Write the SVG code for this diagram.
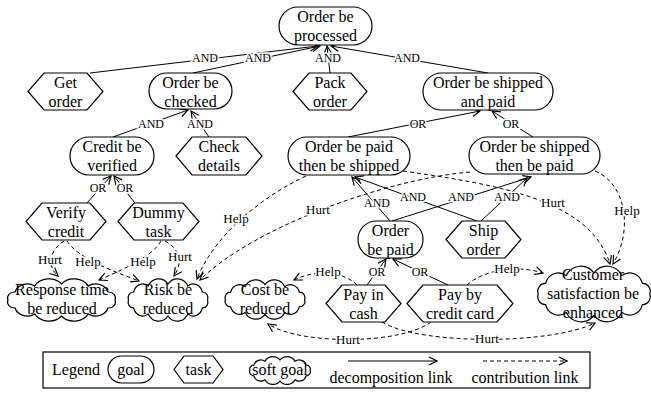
<svg xmlns="http://www.w3.org/2000/svg" width="651" height="393" viewBox="0 0 651 393">
<style>
.n{fill:#fff;stroke:#000;stroke-width:1.2}
.t{font-family:"Liberation Serif","Times New Roman",serif;font-size:16px;text-anchor:middle;fill:#000}
.l{font-family:"Liberation Serif","Times New Roman",serif;font-size:12px;text-anchor:middle;fill:#000;stroke:#fff;stroke-width:3px;paint-order:stroke;stroke-linejoin:round}
.h{font-size:13px}
.d{fill:none;stroke:#000;stroke-width:1;marker-end:url(#a)}
.c{fill:none;stroke:#000;stroke-width:1;stroke-dasharray:4 3;marker-end:url(#a)}
</style>
<defs>
<marker id="a" viewBox="0 0 10 10" refX="9" refY="5" markerWidth="10" markerHeight="10" markerUnits="userSpaceOnUse" orient="auto"><path d="M1,1L9,5L1,9" fill="none" stroke="#000" stroke-width="1.2" stroke-dasharray="none"/></marker>
<path id="cloud" vector-effect="non-scaling-stroke" d="M45,0 A6,6 0 0 1 39,8 A10.5,10.5 0 0 1 22.5,13.9 A13.5,13.5 0 0 1 0,16 A13.5,13.5 0 0 1 -22.5,13.9 A10.5,10.5 0 0 1 -39,8 A6,6 0 0 1 -45,0 A6,6 0 0 1 -39,-8 A10.5,10.5 0 0 1 -22.5,-13.9 A13.5,13.5 0 0 1 0,-16 A13.5,13.5 0 0 1 22.5,-13.9 A10.5,10.5 0 0 1 39,-8 A6,6 0 0 1 45,0 Z"/>
</defs>

<g id="connectors">
<path class="d" d="M90,73L318,46"/>
<path class="d" d="M193,73L320,46"/>
<path class="d" d="M330,73L327,46"/>
<path class="d" d="M488,73L331,46"/>
<path class="d" d="M113,137L188,110"/>
<path class="d" d="M209,137L191,111"/>
<path class="d" d="M87,203L111,176"/>
<path class="d" d="M135,203L114,176"/>
<path class="d" d="M348,137L480,111"/>
<path class="d" d="M533,137L492,111"/>
<path class="d" d="M390,221L352,177"/>
<path class="d" d="M477,221L355,177"/>
<path class="d" d="M392,221L531,177"/>
<path class="d" d="M481,221L527,178"/>
<path class="d" d="M367,285L386,259"/>
<path class="d" d="M448,285L393,259"/>

<path class="c" d="M64,241C50,250 46,265 58,276"/>
<path class="c" d="M67,241C78,258 110,270 139,281"/>
<path class="c" d="M161,241C152,257 122,270 99,280"/>
<path class="c" d="M165,241C180,249 183,263 174,276"/>
<path class="c" d="M306,176C255,200 212,240 197,279"/>
<path class="c" d="M470,172C380,180 250,230 200,280"/>
<path class="c" d="M403,171C500,185 590,200 610,264"/>
<path class="c" d="M595,171C625,183 634,228 613,264"/>
<path class="c" d="M357,285C346,273 318,268 294,280"/>
<path class="c" d="M467,285C482,271 515,264 543,273"/>
<path class="c" d="M431,322C400,345 300,345 268,324"/>
<path class="c" d="M382,322C420,345 550,345 595,323"/>

<text class="l" x="205" y="62">AND</text>
<text class="l" x="258" y="62">AND</text>
<text class="l" x="328" y="62">AND</text>
<text class="l" x="407" y="62">AND</text>
<text class="l" x="151" y="128">AND</text>
<text class="l" x="200" y="128">AND</text>
<text class="l" x="98" y="192">OR</text>
<text class="l" x="125" y="192">OR</text>
<text class="l" x="418" y="128">OR</text>
<text class="l" x="511" y="128">OR</text>
<text class="l" x="377" y="207">AND</text>
<text class="l" x="413" y="201">AND</text>
<text class="l" x="461" y="201">AND</text>
<text class="l" x="507" y="201">AND</text>
<text class="l" x="377" y="276">OR</text>
<text class="l" x="420" y="276">OR</text>

<text class="l h" x="50" y="264">Hurt</text>
<text class="l h" x="88" y="266">Help</text>
<text class="l h" x="143" y="266">Help</text>
<text class="l h" x="180" y="261">Hurt</text>
<text class="l h" x="236" y="223">Help</text>
<text class="l h" x="318" y="214">Hurt</text>
<text class="l h" x="553" y="207">Hurt</text>
<text class="l h" x="627" y="215">Help</text>
<text class="l h" x="328" y="276">Help</text>
<text class="l h" x="507" y="273">Help</text>
<text class="l h" x="348" y="344">Hurt</text>
<text class="l h" x="487" y="343">Hurt</text>
</g>

<g id="order-be-processed"><rect class="n" x="279" y="7" width="93" height="38" rx="19"/><text class="t" x="325.5" y="22">Order be</text><text class="t" x="325.5" y="40.5">processed</text></g>
<g id="get-order"><path class="n" d="M28,91.5L44,73H87L103,91.5L87,110H44Z"/><text class="t" x="65.5" y="88">Get</text><text class="t" x="65.5" y="106.5">order</text></g>
<g id="order-be-checked"><rect class="n" x="149" y="73" width="83" height="36" rx="18"/><text class="t" x="190.5" y="88">Order be</text><text class="t" x="190.5" y="106.5">checked</text></g>
<g id="pack-order"><path class="n" d="M293,91.5L309,73H351L367,91.5L351,110H309Z"/><text class="t" x="330" y="88">Pack</text><text class="t" x="330" y="106.5">order</text></g>
<g id="order-be-shipped-and-paid"><rect class="n" x="423" y="73" width="130" height="37" rx="18.5"/><text class="t" x="488" y="88">Order be shipped</text><text class="t" x="488" y="106.5">and paid</text></g>
<g id="credit-be-verified"><rect class="n" x="70" y="137" width="84" height="38" rx="19"/><text class="t" x="112" y="152">Credit be</text><text class="t" x="112" y="170.5">verified</text></g>
<g id="check-details"><path class="n" d="M176,156L192,137H246L262,156L246,175H192Z"/><text class="t" x="219" y="152">Check</text><text class="t" x="219" y="170.5">details</text></g>
<g id="order-be-paid-then-be-shipped"><rect class="n" x="288" y="137" width="122" height="38" rx="19"/><text class="t" x="349" y="152">Order be paid</text><text class="t" x="349" y="170.5">then be shipped</text></g>
<g id="order-be-shipped-then-be-paid"><rect class="n" x="469" y="137" width="131" height="37" rx="18.5"/><text class="t" x="534.5" y="152">Order be shipped</text><text class="t" x="534.5" y="170.5">then be paid</text></g>
<g id="verify-credit"><path class="n" d="M26,221.5L42,203H90L106,221.5L90,240H42Z"/><text class="t" x="66" y="218">Verify</text><text class="t" x="66" y="236.5">credit</text></g>
<g id="dummy-task"><path class="n" d="M118,221.5L134,203H183L199,221.5L183,240H134Z"/><text class="t" x="158.5" y="218">Dummy</text><text class="t" x="158.5" y="236.5">task</text></g>
<g id="order-be-paid"><rect class="n" x="358" y="221" width="65" height="37" rx="18.5"/><text class="t" x="390.5" y="236">Order</text><text class="t" x="390.5" y="254.5">be paid</text></g>
<g id="ship-order"><path class="n" d="M446,239.5L462,221H505L521,239.5L505,258H462Z"/><text class="t" x="483.5" y="236">Ship</text><text class="t" x="483.5" y="254.5">order</text></g>
<g id="pay-in-cash"><path class="n" d="M326,303.5L342,285H385L401,303.5L385,322H342Z"/><text class="t" x="363.5" y="300">Pay in</text><text class="t" x="363.5" y="318.5">cash</text></g>
<g id="pay-by-credit-card"><path class="n" d="M407,303.5L423,285H497L513,303.5L497,322H423Z"/><text class="t" x="460" y="300">Pay by</text><text class="t" x="460" y="318.5">credit card</text></g>
<g id="response-time-be-reduced"><use href="#cloud" class="n" transform="translate(61.5,300) scale(1.19,1)"/><text class="t" x="62" y="295">Response time</text><text class="t" x="62" y="314">be reduced</text></g>
<g id="risk-be-reduced"><use href="#cloud" class="n" transform="translate(168,300) scale(0.88,1)"/><text class="t" x="168" y="295">Risk be</text><text class="t" x="168" y="314">reduced</text></g>
<g id="cost-be-reduced"><use href="#cloud" class="n" transform="translate(265,299.5) scale(0.88,0.93)"/><text class="t" x="265" y="295">Cost be</text><text class="t" x="265" y="314">reduced</text></g>
<g id="customer-satisfaction-be-enhanced"><use href="#cloud" class="n" transform="translate(594,294) scale(1.24,1.32)"/><text class="t" x="593" y="280">Customer</text><text class="t" x="593" y="299">satisfaction be</text><text class="t" x="593" y="318">enhanced</text></g>

<g id="legend">
<rect x="43" y="352" width="547" height="36" fill="#fff" stroke="#000" stroke-width="1.2"/>
<text class="t" x="76" y="375">Legend</text>
<rect class="n" x="108" y="356" width="46" height="27" rx="13.5"/><text class="t" x="131" y="375">goal</text>
<path class="n" d="M174,369.5L184,356H213L223,369.5L213,383H184Z"/><text class="t" x="198.5" y="375">task</text>
<use href="#cloud" class="n" transform="translate(280,370.5) scale(0.67,0.66)"/><text class="t" x="280" y="375">soft goal</text>
<path class="d" d="M348,361H437"/>
<text class="t" x="391" y="383">decomposition link</text>
<path class="c" d="M483,361H567"/>
<text class="t" x="525" y="383">contribution link</text>
</g>
</svg>
